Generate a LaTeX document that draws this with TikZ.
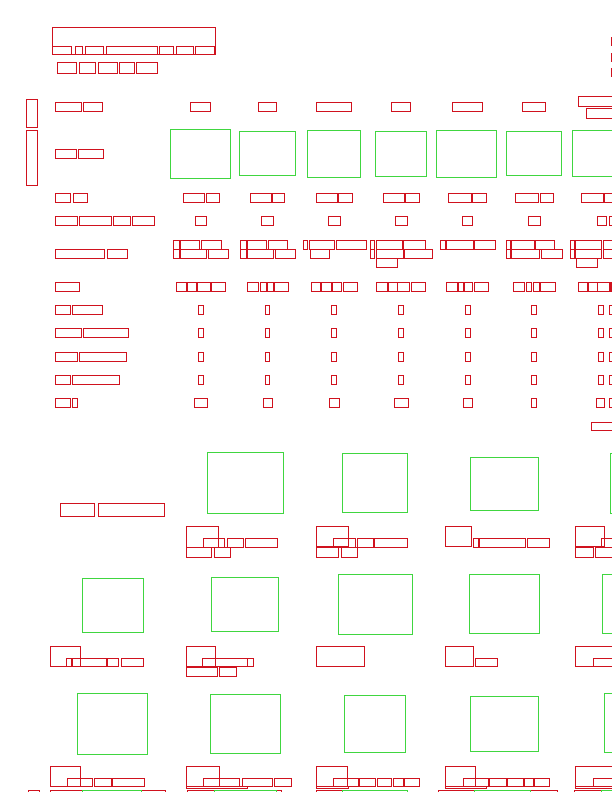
\documentclass[tikz,border=0pt]{standalone}
\usepackage{tikz}
\definecolor{wordred}{RGB}{208,18,30}
\definecolor{figgreen}{RGB}{64,214,64}
\tikzset{
  wordbox/.style={draw=wordred, line width=1pt},
  figbox/.style={draw=figgreen, line width=1pt},
}
\begin{document}
\begin{tikzpicture}[x=1bp,y=-1bp]
			%%%%% PAGE %%%%%
			\useasboundingbox (0,0) rectangle (612,792);
			\clip (0,0) rectangle (612,792);
			
			%%%%% TITLE %%%%%
			\draw[wordbox] (52,27) rectangle (215,54);
			\foreach \a/\b in {52/71,75/82,85/103,106/157,159/173,176/193,195/214}
				\draw[wordbox] (\a,46) rectangle (\b,54);
			\foreach \a/\b in {57/76,79/95,98/117,119/134,136/157}
				\draw[wordbox] (\a,62) rectangle (\b,73);
			\foreach \y in {37,53,68}
				\draw[wordbox] (611,\y) rectangle (620,\y+8);
			
			%%%%% TABLE HEAD %%%%%
			\draw[wordbox] (26,99) rectangle (37,127);
			\draw[wordbox] (26,130) rectangle (37,185);
			\foreach \a/\b in {55/81,83/102,190/210,258/276,316/351,391/410,452/482,522/545}
				\draw[wordbox] (\a,102) rectangle (\b,111);
			\draw[wordbox] (578,96) rectangle (616,106);
			\draw[wordbox] (586,108) rectangle (616,118);
			\foreach \a/\b in {55/76,78/103}
				\draw[wordbox] (\a,149) rectangle (\b,158);
			\draw[figbox] (170,129) rectangle (230,178);
			\draw[figbox] (239,131) rectangle (295,175);
			\draw[figbox] (307,130) rectangle (360,177);
			\draw[figbox] (375,131) rectangle (426,176);
			\draw[figbox] (436,130) rectangle (496,177);
			\draw[figbox] (506,131) rectangle (561,175);
			\draw[figbox] (572,130) rectangle (616,176);
			
			%%%%% TABLE ROWS %%%%%
			\foreach \a/\b in {55/70,73/87,183/204,206/219,250/271,272/284,316/337,338/352,383/404,405/419,448/471,472/486,515/538,540/553,581/603,604/616}
				\draw[wordbox] (\a,193) rectangle (\b,202);
			\foreach \a/\b in {55/77,79/111,113/130,132/154,195/206,261/273,328/340,395/407,462/472,528/540,597/606,609/616}
				\draw[wordbox] (\a,216) rectangle (\b,225);
			\foreach \a/\b in {173/179,180/199,201/221,240/246,247/266,268/287,303/307,309/334,336/366,370/374,376/402,403/425,440/445,446/473,474/495,506/510,511/534,535/554,570/574,575/601,603/616}
				\draw[wordbox] (\a,240) rectangle (\b,249);
			\foreach \a/\b in {55/104,107/127,173/179,180/206,208/228,240/246,247/273,275/295,310/329,370/374,376/403,404/432,506/510,511/539,541/562,570/574,575/601,603/616}
				\draw[wordbox] (\a,249) rectangle (\b,258);
			\foreach \a/\b in {376/397,576/597}
				\draw[wordbox] (\a,258) rectangle (\b,267);
			\foreach \a/\b in {55/79,176/186,187/196,197/210,211/225,247/258,260/266,267/273,274/288,311/320,321/331,332/341,343/357,376/387,388/397,397/409,411/425,446/457,458/463,464/472,474/488,513/524,526/531,533/539,540/555,578/587,588/597,597/609}
				\draw[wordbox] (\a,282) rectangle (\b,291);
			\draw[wordbox, fill=wordred] (609,282) rectangle (616,291);
			\foreach \y in {305,328,352,375}
				\foreach \a/\b in {198/203,265/269,331/336,398/403,465/470,531/536,598/603,609/616}
					\draw[wordbox] (\a,\y) rectangle (\b,\y+9);
			\foreach \y/\a/\b/\c in {305/70/72/102,328/81/83/128,352/77/79/126,375/70/72/119}{
				\draw[wordbox] (55,\y) rectangle (\a,\y+9);
				\draw[wordbox] (\b,\y) rectangle (\c,\y+9);
			}
			\foreach \a/\b in {55/70,72/77,194/207,263/272,329/339,394/408,463/472,531/536,596/604,609/616}
				\draw[wordbox] (\a,398) rectangle (\b,407);
			\draw[wordbox] (591,422) rectangle (616,430);
			
			%%%%% FIGURES %%%%%
			\draw[wordbox] (60,503) rectangle (94,516);
			\draw[wordbox] (98,503) rectangle (164,516);
			
			\draw[figbox] (207,452) rectangle (283,513);
			\draw[figbox] (342,453) rectangle (407,512);
			\draw[figbox] (470,457) rectangle (538,510);
			\draw[figbox] (610,453) rectangle (616,513);
			
			\draw[wordbox] (186,526) rectangle (218,547);
			\foreach \a/\b in {203/224,227/243,245/277,333/355,357/373,374/407,473/478,479/525,527/549,601/616}
				\draw[wordbox] (\a,538) rectangle (\b,547);
			\foreach \a/\b in {186/211,214/230,316/338,341/357,575/593,595/616}
				\draw[wordbox] (\a,547) rectangle (\b,557);
			\draw[wordbox] (316,526) rectangle (348,546);
			\draw[wordbox] (445,526) rectangle (471,546);
			\draw[wordbox] (575,526) rectangle (604,546);
			
			\draw[figbox] (82,578) rectangle (143,632);
			\draw[figbox] (211,577) rectangle (278,631);
			\draw[figbox] (338,574) rectangle (412,634);
			\draw[figbox] (469,574) rectangle (539,633);
			\draw[figbox] (602,574) rectangle (616,633);
			
			\draw[wordbox] (50,646) rectangle (80,666);
			\draw[wordbox] (186,646) rectangle (215,666);
			\draw[wordbox] (316,646) rectangle (364,666);
			\draw[wordbox] (445,646) rectangle (473,666);
			\draw[wordbox] (575,646) rectangle (616,666);
			\foreach \a/\b in {66/71,72/106,107/118,121/143,202/247,247/253,475/497,593/616}
				\draw[wordbox] (\a,658) rectangle (\b,666);
			\foreach \a/\b in {186/217,219/236}
				\draw[wordbox] (\a,667) rectangle (\b,676);
			
			\draw[figbox] (77,693) rectangle (147,754);
			\draw[figbox] (210,694) rectangle (280,753);
			\draw[figbox] (344,695) rectangle (405,752);
			\draw[figbox] (470,696) rectangle (538,751);
			\draw[figbox] (604,693) rectangle (616,752);
			
			\draw[wordbox] (50,766) rectangle (80,786);
			\draw[wordbox] (186,766) rectangle (219,786);
			\draw[wordbox] (316,766) rectangle (347,786);
			\draw[wordbox] (445,766) rectangle (475,786);
			\draw[wordbox] (575,766) rectangle (616,786);
			\foreach \a/\b in {67/92,94/111,112/144,203/239,242/272,274/291,333/358,359/375,377/391,393/403,404/419,463/488,489/506,507/523,524/533,534/549,593/616}
				\draw[wordbox] (\a,778) rectangle (\b,786);
			\foreach \a/\b in {186/247,316/348,445/486,575/612}
				\draw[wordbox] (\a,786) rectangle (\b,788);
			
			%%%%% NEXT LINE %%%%%
			\foreach \a/\b in {28/39,50/82,141/165,187/214,276/281,316/342,438/474,530/557,574/601}
				\draw[wordbox] (\a,790.5) rectangle (\b,800);
			\foreach \a/\b in {82/141,214/276,342/407,474/530,601/616}
				\draw[figbox] (\a,790.5) rectangle (\b,800);
			
			%%%%% END %%%%%
		\end{tikzpicture}
\end{document}
